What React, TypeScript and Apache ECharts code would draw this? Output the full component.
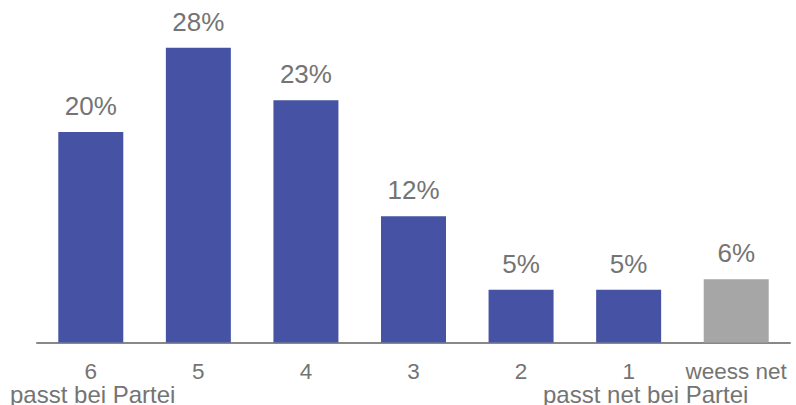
import React, { useEffect, useRef } from "react";
import * as echarts from "echarts";

const categories = ["6", "5", "4", "3", "2", "1", "weess net"];
const values = [20, 28, 23, 12, 5, 5, 6];
const barColors = ["#4653A4", "#4653A4", "#4653A4", "#4653A4", "#4653A4", "#4653A4", "#A6A6A6"];
const leftNote = "passt bei Partei";
const rightNote = "passt net bei Partei";

const FONT = "'Liberation Sans', Arial, sans-serif";
const TEXT = "#747474";

export default function App() {
  const ref = useRef<HTMLDivElement>(null);
  useEffect(() => {
    if (!ref.current) return;
    const chart = echarts.init(ref.current, null, { renderer: "svg" });
    chart.setOption({
      animation: false,
      grid: { left: 37, right: 6, top: 26.6, bottom: 62.5 },
      xAxis: {
        type: "category",
        data: categories,
        axisLine: { lineStyle: { color: "#888888", width: 2 } },
        axisTick: { show: false },
        axisLabel: {
          color: TEXT,
          fontFamily: FONT,
          fontSize: 22.5,
          lineHeight: 19,
          margin: 19.25,
          interval: 0,
        },
      },
      yAxis: {
        type: "value",
        min: 0,
        max: 30,
        show: false,
        splitLine: { show: false },
      },
      series: [
        {
          type: "bar",
          barWidth: 65,
          data: values.map((v, i) => ({ value: v, itemStyle: { color: barColors[i] } })),
          label: {
            show: true,
            position: "top",
            distance: 13,
            formatter: "{c}%",
            color: TEXT,
            fontFamily: FONT,
            fontSize: 26,
          },
        },
      ],
      graphic: [
        {
          type: "text",
          left: 10,
          top: 382,
          style: { text: leftNote, fill: TEXT, font: `24px ${FONT}`, lineHeight: 19 },
        },
        {
          type: "text",
          left: 543,
          top: 382,
          style: { text: rightNote, fill: TEXT, font: `24px ${FONT}`, lineHeight: 19 },
        },
      ],
    });
    return () => chart.dispose();
  }, []);
  return (
    <div
      ref={ref}
      style={{ position: "fixed", left: 0, top: 0, width: 796, height: 405, background: "#fff" }}
    />
  );
}
